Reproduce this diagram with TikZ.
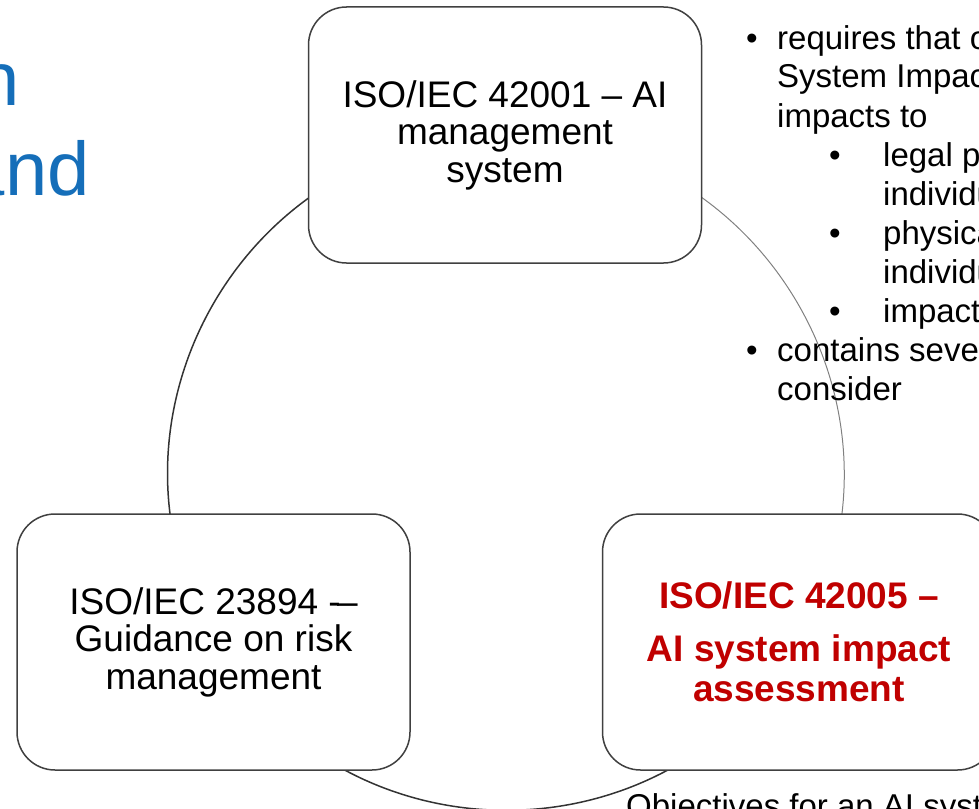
\documentclass[tikz,border=0pt]{standalone}
\usepackage{fontspec}
\setmainfont{Liberation Sans}
\usetikzlibrary{backgrounds}

\definecolor{titleblue}{RGB}{21,110,185}
\definecolor{stdred}{RGB}{192,0,0}
\definecolor{edgegray}{RGB}{64,64,64}

\tikzset{
  stdbox/.style={draw=edgegray, line width=1.5pt, fill=white, rounded corners=38pt,
    minimum width=393pt, minimum height=256pt, inner sep=0pt, align=center,
    font=\fontsize{37}{37.5}\selectfont},
  ring/.style={draw=black!80, line width=1.5pt},
  listline/.style={anchor=base west, inner sep=0pt, font=\fontsize{33}{39}\selectfont},
  listdot/.style={anchor=base, inner sep=0pt, font=\fontsize{33}{39}\selectfont},
  titlepart/.style={anchor=base east, inner sep=0pt, text=titleblue, font=\fontsize{76}{90}\selectfont}
}

\begin{document}
\begin{tikzpicture}[x=1pt, y=-1pt]
  \useasboundingbox (0,0) rectangle (979,808);
  \clip (0,0) rectangle (979,808);

  % Restos del titulo
  \node[titlepart] (tn) at (20,105) {n};
  \node[titlepart] (tand) at (90,195) {and};

  % Las tres normas
  \node[stdbox] (mgmt) at (505,135) {ISO/IEC 42001 – AI\\management\\system};
  \node[stdbox] (risk) at (213.5,642) {ISO/IEC 23894 -\kern-0.1em–\\Guidance on risk\\management};
  \node[stdbox, text=stdred, font=\fontsize{37}{40}\selectfont\bfseries] (impact) at (799,642)
    {ISO/IEC 42005 –\\[13pt]AI system impact\\assessment};

  % Ciclo que une las normas
  \begin{scope}[on background layer]
    \draw[ring, draw=gray, line width=1pt] (mgmt.center) to[bend left=60, looseness=1.135] (impact.center);
    \draw[ring] (impact.center) to[bend left=60, looseness=1.135] (risk.center);
    \draw[ring] (risk.center) to[bend left=60, looseness=1.135] (mgmt.center);
  \end{scope}

  % Lista de la derecha
  \foreach \i/\x/\y/\t in {1/777/49/requires that o, 2/777/88/System Impac, 3/777/127/impacts to,
      4/883/166/legal p, 5/883/205/individu, 6/883/244/physica, 7/883/283/individu,
      8/883/322/impact, 9/777/361/contains sever, 10/777/400/consider}
    \node[listline] (line\i) at (\x,\y) {\t};
  \foreach \i/\x/\y in {1/752/49, 4/835/166, 6/835/244, 8/835/322, 9/752/361}
    \node[listdot] (dot\i) at (\x,\y) {•};

  % Texto cortado abajo
  \node[listline] (obj) at (626,817) {Objectives for an AI syst};
\end{tikzpicture}
\end{document}
